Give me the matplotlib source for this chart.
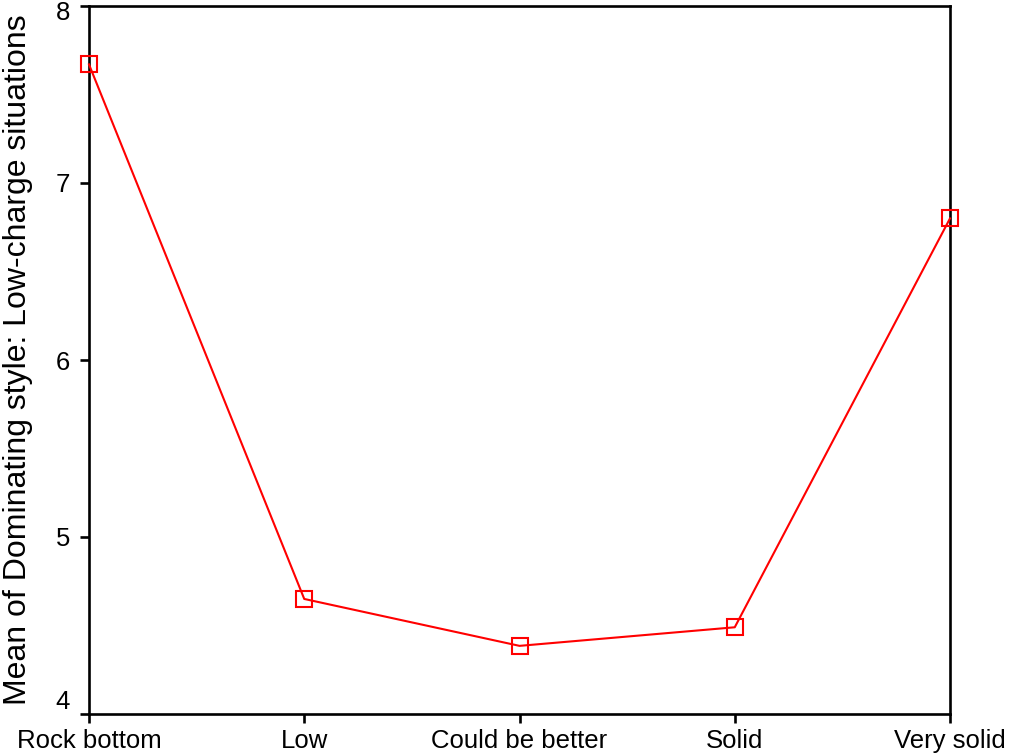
import matplotlib
matplotlib.use('Agg')
import matplotlib.pyplot as plt
import matplotlib.transforms as mtransforms

plt.rcParams['font.family'] = ['Liberation Sans', 'DejaVu Sans']

categories = ['Rock bottom', 'Low', 'Could be better', 'Solid', 'Very solid']
means = [7.67, 4.65, 4.385, 4.49, 6.80]
yticks = [4, 5, 6, 7, 8]

fig = plt.figure(figsize=(10.11, 7.53), dpi=100)
ax = fig.add_axes([89/1011, 39/753, 861/1011, 708/753])

xs = list(range(len(categories)))
ax.plot(xs, means, color='red', linewidth=1.5, marker='s', markersize=11,
        markerfacecolor='none', markeredgecolor='red', markeredgewidth=1.5,
        clip_on=False, zorder=3)

ax.set_xlim(0, len(categories) - 1)
ax.set_ylim(4, 8)
ax.set_xticks(xs)
ax.set_xticklabels(categories)
ax.set_yticks(yticks)
ax.set_yticklabels([str(t) for t in yticks])

for s in ax.spines.values():
    s.set_linewidth(1.9)
ax.tick_params(axis='both', direction='out', length=6.5, width=1.9, labelsize=18.5)
ax.tick_params(axis='y', pad=7)
ax.tick_params(axis='x', pad=4)

# end labels sit inside the axis range like the original
ylabs = ax.get_yticklabels()
ylabs[0].set_verticalalignment('bottom')
ylabs[-1].set_transform(ylabs[-1].get_transform() +
                        mtransforms.ScaledTranslation(0, -4/100, fig.dpi_scale_trans))

ax.set_ylabel('Mean of Dominating style: Low-charge situations', fontsize=23)
ax.yaxis.set_label_coords(-56/861, 0.5)

fig.savefig('out.png', dpi=100)
